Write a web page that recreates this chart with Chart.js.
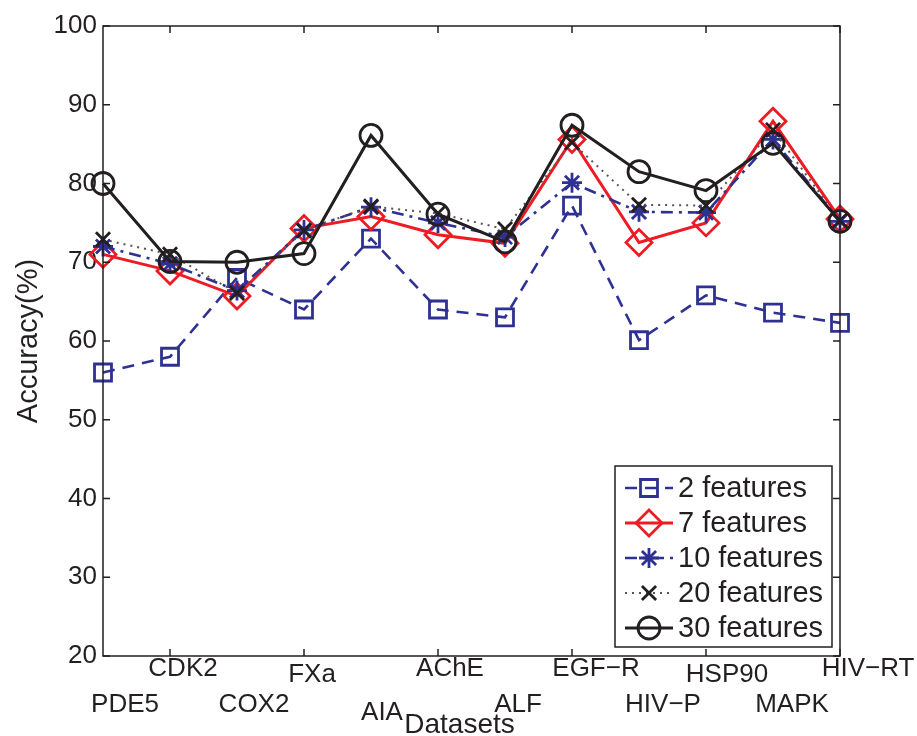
<!DOCTYPE html>
<html>
<head>
<meta charset="utf-8">
<script src="https://cdn.jsdelivr.net/npm/chart.js@4.4.1/dist/chart.umd.min.js"></script>
<style>
  html, body { margin: 0; padding: 0; background: #fff; }
</style>
</head>
<body>
<canvas id="chart" width="917" height="736"></canvas>
<script>
// Accuracy per dataset for different feature counts
const labels = ["PDE5", "CDK2", "COX2", "FXa", "AIA", "AChE", "ALF", "EGF\u2212R", "HIV\u2212P", "HSP90", "MAPK", "HIV\u2212RT"];
const seriesNames = ["2 features", "7 features", "10 features", "20 features", "30 features"];
const acc2 = [56, 58, 68, 64, 73, 64, 63, 77.2, 60.1, 65.8, 63.6, 62.3];
const acc7 = [71, 68.9, 65.7, 74.3, 75.8, 73.5, 72.4, 85.6, 72.5, 75, 87.9, 75.5];
const acc10 = [72, 69.8, 66.4, 74.1, 77, 75, 73.2, 80.1, 76.4, 76.3, 85.6, 75.2];
const acc20 = [72.9, 71, 66.1, 74, 77.1, 76.2, 74.2, 85.2, 77.3, 77.2, 86.8, 75.3];
const acc30 = [80, 70.1, 70, 71.1, 86.1, 76.1, 72.6, 87.4, 81.5, 79.1, 85.1, 75.2];
const yTicks = [20, 30, 40, 50, 60, 70, 80, 90, 100];
const xTitle = "Datasets";
const yTitle = "Accuracy(%)";

// label placement (the tick labels are staggered in the original)
const labelDx = [22, 13, 17, 8, 11, 12, 13, 24, 24, 21, 19, 28];
const labelDy = [56, 20, 56, 26, 64, 20, 56, 20, 56, 26, 56, 20];

const ink = "#231f20";
const blue = "#2e3192";
const red = "#ed1c24";
const font = "'Liberation Sans', Arial, Helvetica, sans-serif";

Chart.defaults.font.family = font;
Chart.defaults.color = ink;

function series(i, data, color, dash, width, style, radius) {
  return {
    label: seriesNames[i],
    data: data,
    borderColor: color,
    borderDash: dash,
    borderWidth: width,
    pointStyle: style,
    pointRadius: radius,
    pointHoverRadius: radius,
    pointBorderColor: i === 3 ? ink : color,
    pointBackgroundColor: "rgba(0,0,0,0)",
    pointBorderWidth: 2.8,
    fill: false,
    tension: 0,
    clip: false,
    order: 4 - i,
  };
}

const matlabAxes = {
  id: "matlabAxes",
  afterDraw(chart) {
    const { ctx, chartArea: a } = chart;
    const x = chart.scales.x;
    const y = chart.scales.y;
    ctx.save();

    // box and inward ticks
    ctx.strokeStyle = ink;
    ctx.lineWidth = 1.5;
    ctx.setLineDash([]);
    ctx.strokeRect(a.left, a.top, a.right - a.left, a.bottom - a.top);
    ctx.beginPath();
    yTicks.forEach((v) => {
      const py = y.getPixelForValue(v);
      ctx.moveTo(a.left, py);
      ctx.lineTo(a.left + 7, py);
      ctx.moveTo(a.right, py);
      ctx.lineTo(a.right - 7, py);
    });
    labels.forEach((l, i) => {
      if (i % 2 === 1) {
        const px = x.getPixelForValue(i);
        ctx.moveTo(px, a.bottom);
        ctx.lineTo(px, a.bottom - 7);
        ctx.moveTo(px, a.top);
        ctx.lineTo(px, a.top + 7);
      }
    });
    ctx.stroke();

    // category labels
    ctx.fillStyle = ink;
    ctx.font = "26px " + font;
    ctx.textAlign = "center";
    ctx.textBaseline = "alphabetic";
    labels.forEach((l, i) => {
      ctx.fillText(l, x.getPixelForValue(i) + labelDx[i], a.bottom + labelDy[i]);
    });

    ctx.font = "28px " + font;
    ctx.fillText(xTitle, (a.left + a.right) / 2 - 12, a.bottom + 77);

    // legend
    const bw = 217, bh = 181;
    const bx = a.right - 8 - bw;
    const by = a.bottom - 9 - bh;
    ctx.fillStyle = "#fff";
    ctx.fillRect(bx, by, bw, bh);
    ctx.lineWidth = 1.5;
    ctx.strokeStyle = ink;
    ctx.strokeRect(bx, by, bw, bh);
    ctx.font = "29px " + font;
    ctx.textAlign = "left";
    ctx.textBaseline = "middle";
    chart.data.datasets.forEach((ds, i) => {
      const cy = by + 22 + i * 35;
      ctx.strokeStyle = ds.borderColor;
      ctx.lineWidth = ds.borderWidth;
      ctx.setLineDash(ds.borderDash || []);
      ctx.beginPath();
      ctx.moveTo(bx + 10, cy);
      ctx.lineTo(bx + 58, cy);
      ctx.stroke();
      ctx.setLineDash([]);
      ctx.strokeStyle = ds.pointBorderColor;
      ctx.fillStyle = "rgba(0,0,0,0)";
      ctx.lineWidth = ds.pointBorderWidth;
      Chart.helpers.drawPoint(ctx, {
        pointStyle: ds.pointStyle,
        radius: ds.pointRadius,
        rotation: 0,
        borderWidth: ds.pointBorderWidth,
      }, bx + 34, cy);
      ctx.fillStyle = ink;
      ctx.fillText(ds.label, bx + 63, cy + 1);
    });

    ctx.restore();
  },
};

const chart = new Chart(document.getElementById("chart").getContext("2d"), {
  type: "line",
  data: {
    labels: labels,
    datasets: [
      series(0, acc2, blue, [12, 8], 2.6, "rect", 12),
      series(1, acc7, red, [], 3, "rectRot", 13),
      series(2, acc10, blue, [12, 6, 3, 6], 2.6, "star", 10),
      series(3, acc20, "#555", [2, 5], 2, "crossRot", 10),
      series(4, acc30, ink, [], 3, "circle", 11),
    ],
  },
  options: {
    responsive: false,
    animation: false,
    layout: { padding: { top: 26, right: 77, left: 0, bottom: 0 } },
    plugins: {
      legend: { display: false },
      tooltip: { enabled: false },
    },
    scales: {
      x: {
        type: "category",
        offset: false,
        afterFit(s) { s.height = 80; },
        grid: { display: false },
        border: { display: false },
        ticks: { display: false },
      },
      y: {
        min: 20,
        max: 100,
        afterFit(s) { s.width = 103; },
        grid: { display: false },
        border: { display: false },
        ticks: { stepSize: 10, padding: -2, color: ink, font: { size: 26 } },
        title: { display: true, text: yTitle, color: ink, font: { size: 29 }, padding: { top: 12, bottom: 0 } },
      },
    },
  },
  plugins: [matlabAxes],
});
</script>
</body>
</html>
